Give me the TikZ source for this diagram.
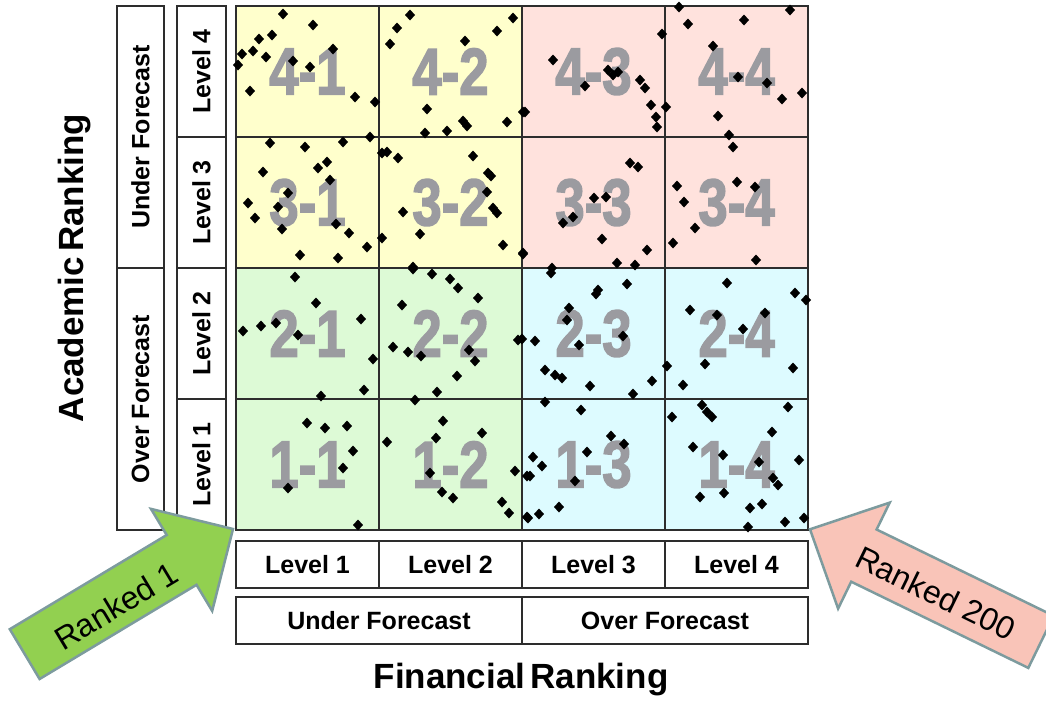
\documentclass[tikz,border=0pt]{standalone}
\usepackage{fontspec}
\setmainfont{Liberation Sans}
\newfontfamily\cellfont{Liberation Sans Bold}[FakeBold=2.5]
\definecolor{cyel}{RGB}{255,255,204}
\definecolor{cpink}{RGB}{255,226,221}
\definecolor{cgrn}{RGB}{221,250,214}
\definecolor{ccyan}{RGB}{221,251,255}
\definecolor{lblgray}{RGB}{155,155,160}
\definecolor{linec}{RGB}{45,45,45}
\definecolor{agreen}{RGB}{146,208,80}
\definecolor{apink}{RGB}{249,196,184}
\definecolor{aedge}{RGB}{125,155,158}
\begin{document}
\begin{tikzpicture}[x=1pt,y=-1pt,
  cell/.style={draw=linec, line width=1.5pt, minimum width=143pt, minimum height=131pt,
    inner sep=0pt, outer sep=0pt, text=lblgray, font=\cellfont\fontsize{66}{66}\selectfont},
  boxstyle/.style={draw=linec, line width=1.2pt, fill=white, inner sep=0pt, outer sep=0pt,
    font=\bfseries\fontsize{25}{25}\selectfont},
  vbox/.style={boxstyle, rotate=90},
  titlestyle/.style={font=\bfseries\fontsize{35}{35}\selectfont},
  rankstyle/.style={font=\fontsize{32}{32}\selectfont},
  arrowshape/.style={draw=aedge, line width=2.5pt, line join=miter}
]
\useasboundingbox (0,0) rectangle (1046,702);
\clip (0,0) rectangle (1046,702);

% cells
\node[cell, fill=cyel]  (c41) at (307.5,71.5)  {\scalebox{0.8}[1]{4-1}};
\node[cell, fill=cyel]  (c42) at (450.5,71.5)  {\scalebox{0.8}[1]{4-2}};
\node[cell, fill=cpink] (c43) at (593.5,71.5)  {\scalebox{0.8}[1]{4-3}};
\node[cell, fill=cpink] (c44) at (736.5,71.5)  {\scalebox{0.8}[1]{4-4}};
\node[cell, fill=cyel]  (c31) at (307.5,202.5) {\scalebox{0.8}[1]{3-1}};
\node[cell, fill=cyel]  (c32) at (450.5,202.5) {\scalebox{0.8}[1]{3-2}};
\node[cell, fill=cpink] (c33) at (593.5,202.5) {\scalebox{0.8}[1]{3-3}};
\node[cell, fill=cpink] (c34) at (736.5,202.5) {\scalebox{0.8}[1]{3-4}};
\node[cell, fill=cgrn]  (c21) at (307.5,333.5) {\scalebox{0.8}[1]{2-1}};
\node[cell, fill=cgrn]  (c22) at (450.5,333.5) {\scalebox{0.8}[1]{2-2}};
\node[cell, fill=ccyan] (c23) at (593.5,333.5) {\scalebox{0.8}[1]{2-3}};
\node[cell, fill=ccyan] (c24) at (736.5,333.5) {\scalebox{0.8}[1]{2-4}};
\node[cell, fill=cgrn]  (c11) at (307.5,464.5) {\scalebox{0.8}[1]{1-1}};
\node[cell, fill=cgrn]  (c12) at (450.5,464.5) {\scalebox{0.8}[1]{1-2}};
\node[cell, fill=ccyan] (c13) at (593.5,464.5) {\scalebox{0.8}[1]{1-3}};
\node[cell, fill=ccyan] (c14) at (736.5,464.5) {\scalebox{0.8}[1]{1-4}};

% scatter points
\foreach \px/\py in {
 283/14, 313/25, 272/35, 259/39, 253/51, 242/54, 238/65, 266/57, 293/61, 310/67, 333/49, 250/91, 355/97, 375/102,
 410/15, 397/28, 390/44, 465/41, 497/31, 513/18, 427/109, 463/121, 467/126, 507/122, 425/133, 447/131, 523/112,
 270/143, 305/147, 343/142, 370/137, 382/153, 387/152, 398/158, 473/156, 327/162, 318/168, 263/172, 330/180,
 288/193, 248/203, 255/218, 278/207, 282/229, 336/224, 349/233, 367/247, 300/255, 338/258, 382/238,
 488/173, 491/176, 487/192, 493/208, 497/213, 403/212, 420/234, 503/245, 523/254, 413/267,
 553/60, 585/86, 608/70, 613/75, 618/72, 640/80, 645/88, 651/105, 656/117, 657/127, 662/34, 525/112, 666/107,
 679/7, 688/24, 744/20, 790/10, 713/46, 738/77, 767/83, 782/99, 802/93, 718/116, 729/135, 733/147,
 630/163, 638/167, 594/198, 606/197, 563/223, 573/217, 602/239, 647/250, 617/263, 635/265, 523/253, 552/268,
 677/186, 684/202, 695/228, 737/182, 755/187, 673/243, 756/260,
 295/277, 316/303, 243/331, 261/326, 276/323, 298/335, 361/319, 373/359, 364/390, 321/396,
 413/269, 432/274, 450/279, 458/288, 478/298, 402/305, 393/347, 408/352, 421/356, 469/350, 475/361, 457/376,
 437/392, 415/400, 518/340,
 307/423, 325/428, 347/426, 353/451, 343/468, 288/488, 358/525,
 387/442, 443/421, 436/438, 482/433, 430/473, 442/492, 453/498, 502/502, 509/513, 515/471, 527/476, 527/517,
 551/273, 598/290, 596/294, 627/284, 569/308, 567/320, 535/341, 579/345, 623/336, 545/370, 555/375, 562/378,
 590/386, 652/381, 633/394, 522/339,
 727/283, 795/293, 806/300, 690/310, 717/315, 765/313, 743/329, 705/364, 793/368, 683/385, 667/366,
 545/402, 581/410, 611/436, 624/444, 587/452, 533/457, 542/466, 530/476, 575/481, 559/507, 539/514, 528/518,
 702/405, 707/412, 712/417, 788/407, 672/417, 772/432, 693/447, 723/455, 759/462, 799/460, 773/478, 778/485,
 724/493, 700/497, 762/504, 750/508, 785/522, 804/518, 748/527}
 \fill[black] (\px,\py) +(-5,0) -- +(0,-5.5) -- +(5,0) -- +(0,5.5) -- cycle;

% left boxes
\node[vbox, minimum width=131pt, minimum height=49pt] (al4) at (201.5,71.5)  {Level 4};
\node[vbox, minimum width=131pt, minimum height=49pt] (al3) at (201.5,202.5) {Level 3};
\node[vbox, minimum width=131pt, minimum height=49pt] (al2) at (201.5,333.5) {Level 2};
\node[vbox, minimum width=131pt, minimum height=49pt] (al1) at (201.5,464.5) {Level 1};
\node[vbox, minimum width=262pt, minimum height=47pt] (aund) at (140.5,137) {Under Forecast};
\node[vbox, minimum width=262pt, minimum height=47pt] (aovr) at (140.5,399) {Over Forecast};

% bottom boxes
\node[boxstyle, minimum width=143pt, minimum height=47pt] (fl1) at (307.5,564.5) {Level 1};
\node[boxstyle, minimum width=143pt, minimum height=47pt] (fl2) at (450.5,564.5) {Level 2};
\node[boxstyle, minimum width=143pt, minimum height=47pt] (fl3) at (593.5,564.5) {Level 3};
\node[boxstyle, minimum width=143pt, minimum height=47pt] (fl4) at (736.5,564.5) {Level 4};
\node[boxstyle, minimum width=286pt, minimum height=47pt] (fund) at (379,620.5) {Under Forecast};
\node[boxstyle, minimum width=286pt, minimum height=47pt] (fovr) at (665,620.5) {Over Forecast};

% titles
\node[titlestyle] (ftitle) at (521,680) {Financial\hspace{5pt}Ranking};
\node[titlestyle, rotate=90] (atitle) at (75,268) {Academic\hspace{5pt}Ranking};

% arrows
\draw[arrowshape, fill=agreen] (233,529) -- (151,508.9) -- (166.7,535) -- (9.8,629.2)
  -- (39.6,679) -- (196.5,584.8) -- (212.2,610.9) -- cycle;
\node[rankstyle, rotate=31] (rk1) at (116,606) {Ranked 1};
\draw[arrowshape, fill=apink] (810,529.3) -- (889.7,502.6) -- (876.6,529.5) -- (1053.7,615.8)
  -- (1028.3,667.9) -- (851.2,581.7) -- (838.1,608.6) -- cycle;
\node[rankstyle, rotate=-26] (rk200) at (935.7,593.3) {Ranked 200};
\end{tikzpicture}
\end{document}
